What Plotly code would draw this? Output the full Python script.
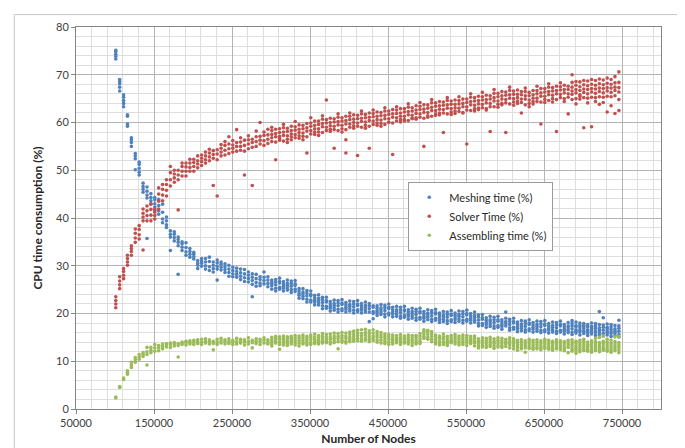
import plotly.graph_objects as go

# Cluster node counts (x positions of each group of runs)
nodes = [
    101000, 106000, 111000, 116000, 121000, 126000, 131000, 136000, 141000, 146000,
    151000, 156000, 161000, 166000, 171000, 176000, 181000, 186000, 191000, 196000,
    201000, 206000, 211000, 216000, 221000, 226000, 231000, 236000, 241000, 246000,
    251000, 256000, 261000, 266000, 271000, 276000, 281000, 286000, 291000, 296000,
    301000, 306000, 311000, 316000, 321000, 326000, 331000, 336000, 341000, 346000,
    351000, 356000, 361000, 366000, 371000, 376000, 381000, 386000, 391000, 396000,
    401000, 406000, 411000, 416000, 421000, 426000, 431000, 436000, 441000, 446000,
    451000, 456000, 461000, 466000, 471000, 476000, 481000, 486000, 491000, 496000,
    501000, 506000, 511000, 516000, 521000, 526000, 531000, 536000, 541000, 546000,
    551000, 556000, 561000, 566000, 571000, 576000, 581000, 586000, 591000, 596000,
    601000, 606000, 611000, 616000, 621000, 626000, 631000, 636000, 641000, 646000,
    651000, 656000, 661000, 666000, 671000, 676000, 681000, 686000, 691000, 696000,
    701000, 706000, 711000, 716000, 721000, 726000, 731000, 736000, 741000, 746000,
]

meshing = [
    [73.3, 73.8, 74.3, 74.8, 75.1], [66.6, 67.4, 68.1, 68.6, 69.0], [63.3, 64.0, 64.6, 65.3, 65.8],
    [59.2, 59.7, 61.3, 61.6], [55.0, 55.8, 56.4, 56.8], [50.1, 52.4, 53.0, 53.5],
    [49.0, 49.6, 50.4, 51.2, 51.7], [45.4, 46.0, 46.6, 47.3], [44.2, 44.8, 45.6, 46.5, 35.7],
    [43.0, 43.6, 44.3, 45.1],
    [41.6, 42.3, 43.0, 43.8, 44.3], [40.8, 41.5, 42.6, 43.9], [39.0, 39.8, 41.2, 42.9],
    [38.0, 38.6, 39.4, 40.2], [36.0, 36.6, 37.3, 33.2], [35.2, 35.9, 36.6, 37.1],
    [34.2, 34.9, 35.5, 36.0, 28.2], [33.2, 33.9, 34.6, 35.0], [32.2, 32.9, 33.8, 34.8],
    [31.8, 32.4, 33.0, 33.6],
    [31.4, 31.9, 32.4, 32.8], [29.4, 30.1, 30.6, 31.1], [29.9, 30.5, 31.0, 31.5],
    [29.3, 30.0, 30.8, 31.5], [29.0, 29.8, 30.9, 31.8], [28.7, 29.4, 30.1, 30.8],
    [29.3, 29.9, 30.6, 31.2, 27.0], [29.1, 29.7, 30.3, 30.8], [28.6, 29.2, 29.8, 30.4],
    [27.8, 28.6, 29.3, 30.1],
    [27.7, 28.3, 29.0, 29.7], [27.6, 28.2, 28.8, 29.5], [27.1, 27.8, 28.5, 29.3],
    [26.7, 27.5, 28.3, 29.2], [26.6, 27.3, 28.0, 28.7], [26.1, 26.9, 27.6, 28.3, 23.5],
    [25.7, 26.5, 27.3, 28.2], [25.8, 26.4, 27.1, 27.7], [26.2, 26.9, 27.6, 28.7],
    [25.6, 26.3, 27.0, 27.7],
    [25.1, 25.8, 26.3, 27.0, 26.6], [25.3, 26.0, 26.6, 27.1, 24.7], [25.1, 25.5, 26.4, 26.7, 27.4],
    [24.7, 25.7, 26.2, 26.7, 25.3], [25.4, 25.9, 26.3, 27.0, 24.9], [25.0, 25.7, 26.3, 26.8, 24.4],
    [24.6, 25.1, 25.9, 26.2, 26.9], [23.2, 24.2, 24.7, 25.2, 23.8], [23.6, 24.1, 24.5, 25.2, 23.1],
    [23.0, 23.7, 24.3, 24.8, 22.4],
    [22.4, 22.8, 23.7, 24.0, 24.7], [21.8, 22.8, 23.3, 23.8, 22.4], [22.3, 22.8, 23.2, 23.9, 21.8],
    [21.6, 22.3, 22.9, 23.4, 21.0], [21.1, 21.5, 22.4, 22.7, 23.4], [20.5, 21.5, 22.0, 22.5, 21.1],
    [21.2, 21.7, 22.1, 22.8, 20.7], [20.9, 21.6, 22.2, 22.7, 20.3], [20.6, 21.0, 21.9, 22.2, 22.9],
    [20.3, 21.3, 21.8, 22.3, 20.9],
    [21.0, 21.5, 21.9, 22.6, 20.5], [20.7, 21.4, 22.0, 22.5, 20.1], [20.4, 20.8, 21.7, 22.0, 22.7],
    [20.1, 21.1, 21.6, 22.1, 20.7], [20.8, 21.3, 21.7, 22.4, 20.3], [20.3, 21.0, 21.6, 22.1, 18.3],
    [20.0, 20.4, 21.3, 21.6, 18.9], [19.6, 20.6, 21.1, 21.6, 20.2], [20.3, 20.8, 21.2, 21.9, 19.8],
    [19.9, 20.6, 21.2, 21.7, 19.3],
    [19.7, 20.1, 21.0, 21.3, 22.0], [19.3, 20.3, 20.8, 21.3, 19.9], [19.9, 20.4, 20.8, 21.5, 19.4],
    [19.5, 20.2, 20.8, 21.3, 19.0], [19.2, 19.6, 20.5, 20.8, 21.5], [18.8, 19.8, 20.3, 20.8, 19.4],
    [19.5, 20.0, 20.4, 21.1, 19.0], [19.1, 19.8, 20.4, 20.9, 18.6], [18.8, 19.2, 20.1, 20.4, 21.1],
    [18.4, 19.4, 19.9, 20.4, 19.0],
    [19.2, 19.7, 20.1, 20.8, 18.7], [18.8, 19.5, 20.1, 20.6, 18.3], [18.6, 19.0, 19.9, 20.2, 20.9],
    [18.1, 19.1, 19.6, 20.1, 18.7], [18.8, 19.3, 19.7, 20.4, 18.3], [18.5, 19.2, 19.8, 20.3, 17.9],
    [18.3, 18.7, 19.6, 19.9, 20.6], [18.1, 19.1, 19.6, 20.1, 18.7], [18.9, 19.4, 19.8, 20.5, 18.4],
    [18.6, 19.3, 19.9, 20.4, 18.0],
    [18.4, 18.8, 19.7, 20.0, 20.7], [18.0, 19.0, 19.5, 20.0, 18.6], [18.7, 19.2, 19.6, 20.3, 18.2],
    [17.9, 18.6, 19.2, 19.7, 17.4], [17.5, 17.9, 18.8, 19.1, 19.8], [17.1, 18.1, 18.6, 19.1, 17.7],
    [17.8, 18.3, 18.7, 19.4, 17.3], [17.4, 18.1, 18.7, 19.2, 16.9], [17.1, 17.5, 18.4, 18.7, 19.4],
    [16.7, 17.7, 18.2, 18.7, 17.3],
    [17.4, 17.9, 18.3, 19.0, 20.3], [17.0, 17.7, 18.3, 18.8, 16.5], [16.7, 17.1, 18.0, 18.3, 19.0],
    [16.2, 17.2, 17.7, 18.2, 16.8], [16.9, 17.4, 17.8, 18.5, 16.4], [16.6, 17.3, 17.9, 18.4, 16.1],
    [16.4, 16.8, 17.7, 18.0, 18.7], [16.1, 17.1, 17.6, 18.1, 16.7], [16.8, 17.3, 17.7, 18.4, 16.3],
    [16.5, 17.2, 17.8, 18.3, 16.0],
    [16.2, 16.6, 17.5, 17.8, 18.5], [15.9, 16.9, 17.4, 17.9, 16.5], [16.6, 17.1, 17.5, 18.2, 16.1],
    [16.3, 17.0, 17.6, 18.1, 15.8], [16.1, 16.5, 17.4, 17.7, 18.4], [15.7, 16.7, 17.2, 17.7, 16.3],
    [16.5, 17.0, 17.4, 18.1, 16.0], [16.1, 16.8, 17.4, 17.9, 15.6, 18.5], [15.9, 16.3, 17.2, 17.5, 18.2, 16.6],
    [15.5, 16.5, 17.0, 17.5, 16.1, 18.0],
    [16.3, 16.8, 17.2, 17.9, 15.8, 17.5], [15.9, 16.6, 17.2, 17.7, 15.4, 16.3], [15.7, 16.1, 17.0, 17.3, 18.0, 16.6],
    [15.4, 16.4, 16.9, 17.4, 16.0, 17.9], [16.1, 16.6, 17.0, 17.7, 15.6, 20.4], [15.8, 16.5, 17.1, 17.6, 15.3, 19.1],
    [15.5, 15.9, 16.8, 17.1, 17.8, 16.3], [15.2, 16.2, 16.7, 17.2, 15.8, 17.7], [15.9, 16.4, 16.8, 17.5, 15.4, 16.1],
    [15.6, 16.3, 16.9, 17.4, 15.1, 18.6],
]

solver = [
    [21.2, 22.0, 22.7, 23.5], [25.2, 26.0, 26.8, 27.7], [27.3, 28.0, 28.8, 29.4],
    [30.1, 30.8, 31.5, 32.2], [32.2, 33.0, 33.6, 34.2], [34.9, 35.8, 36.8, 37.7],
    [35.6, 36.5, 37.6, 38.4], [39.4, 40.2, 41.0, 41.9, 33.3], [39.4, 40.5, 41.5, 42.5],
    [39.4, 40.6, 41.8, 42.9],
    [39.8, 40.5, 41.2, 41.9], [41.9, 43.5, 45.0, 46.3], [43.6, 44.8, 46.0, 47.0],
    [44.6, 45.8, 47.0, 48.0], [46.7, 48.0, 49.5, 50.8], [47.5, 48.4, 49.2, 50.0],
    [48.0, 49.0, 50.0, 41.7], [48.8, 49.8, 50.8, 51.5], [48.8, 49.8, 50.7, 51.5],
    [49.8, 50.6, 51.5, 52.3],
    [49.8, 50.8, 51.6, 52.3], [50.5, 51.3, 52.0, 53.0], [51.0, 51.8, 52.5, 53.2],
    [51.5, 52.2, 53.0, 53.8], [52.0, 52.8, 53.6, 54.4], [52.5, 53.3, 54.1, 46.8],
    [52.2, 53.4, 54.3, 44.6], [53.0, 53.8, 54.6, 55.4], [53.2, 54.2, 55.2, 56.0],
    [53.5, 54.5, 55.5, 57.0],
    [53.8, 54.6, 55.3, 56.2], [54.0, 55.0, 55.8, 58.5], [54.2, 55.0, 55.9, 56.8],
    [54.0, 55.2, 56.3, 49.0], [54.5, 55.5, 56.4, 57.2], [54.8, 55.8, 56.5, 46.8],
    [55.0, 56.0, 57.0, 58.2], [55.5, 56.3, 57.1, 60.0], [55.2, 56.2, 57.3, 58.0],
    [55.6, 56.5, 57.4, 58.6],
    [56.0, 56.8, 57.5, 58.3, 59.0], [55.9, 57.0, 57.7, 58.6, 52.2], [56.3, 57.1, 57.9, 58.7, 56.7],
    [56.1, 57.3, 58.0, 58.9, 59.6], [56.5, 57.2, 58.1, 58.8, 55.8], [56.4, 57.6, 58.3, 59.2, 57.0],
    [56.8, 57.5, 58.4, 59.1, 60.2], [56.7, 57.9, 58.6, 59.5, 57.2], [57.1, 57.8, 58.7, 59.4, 56.4],
    [57.0, 58.2, 58.9, 59.8, 53.6],
    [57.6, 58.3, 59.2, 59.9, 61.0], [57.5, 58.7, 59.4, 60.3, 58.0], [58.0, 58.7, 59.6, 60.3, 57.3],
    [57.9, 59.1, 59.8, 60.7, 61.4], [58.3, 59.0, 59.9, 60.6, 64.7], [58.1, 59.3, 60.0, 60.9, 58.6],
    [58.5, 59.2, 60.1, 60.8, 54.6], [58.3, 59.5, 60.2, 61.1, 61.8], [58.7, 59.4, 60.3, 61.0, 58.0],
    [58.5, 59.7, 60.4, 61.3, 56.4, 53.6],
    [59.0, 59.7, 60.6, 61.3, 62.0], [58.8, 60.0, 60.7, 61.6, 59.3], [59.2, 59.9, 60.8, 61.5, 53.1],
    [59.0, 60.2, 60.9, 61.8, 62.4], [59.4, 60.1, 61.0, 61.7, 58.8], [59.2, 60.4, 61.1, 62.0, 54.6],
    [59.6, 60.3, 61.2, 61.9, 62.6], [59.4, 60.6, 61.3, 62.2, 59.9], [59.8, 60.5, 61.4, 62.1, 59.2],
    [59.6, 60.8, 61.5, 62.4, 63.1],
    [60.1, 60.8, 61.7, 62.4, 60.0], [59.9, 61.1, 61.8, 62.7, 53.3], [60.3, 61.0, 61.9, 62.6, 63.3],
    [60.1, 61.3, 62.0, 62.9, 60.6], [60.6, 61.3, 62.2, 62.9, 60.3], [60.4, 61.6, 62.3, 63.2, 63.9],
    [60.8, 61.5, 62.4, 63.1, 60.9], [60.7, 61.9, 62.6, 63.5, 61.0], [61.1, 61.8, 62.7, 63.4, 64.2],
    [60.9, 62.1, 62.8, 63.7, 55.0],
    [61.4, 62.1, 63.0, 63.7, 61.1], [61.3, 62.5, 63.2, 64.1, 64.8], [61.8, 62.5, 63.4, 64.1, 61.5],
    [61.6, 62.8, 63.5, 64.4, 62.0], [62.0, 62.7, 63.6, 64.3, 57.9], [61.8, 63.0, 63.7, 64.6, 65.2],
    [62.2, 62.9, 63.8, 64.5, 61.7], [61.9, 63.1, 63.8, 64.7, 62.4], [62.3, 63.0, 63.9, 64.6, 65.4],
    [62.1, 63.3, 64.0, 64.9, 62.0],
    [62.6, 63.3, 64.2, 64.9, 55.5], [62.5, 63.7, 64.4, 65.3, 66.0], [62.9, 63.6, 64.5, 65.2, 62.4],
    [62.7, 63.9, 64.6, 65.5, 63.0], [63.1, 63.8, 64.7, 65.4, 66.3], [62.9, 64.1, 64.8, 65.7, 62.6],
    [63.3, 64.0, 64.9, 65.6, 58.1], [63.3, 64.5, 65.2, 66.1, 66.9], [63.8, 64.5, 65.4, 66.1, 63.2],
    [63.7, 64.9, 65.6, 66.5, 64.0],
    [64.1, 64.8, 65.7, 66.4, 57.9], [63.9, 65.1, 65.8, 66.7, 67.4], [64.3, 65.0, 65.9, 66.6, 63.6],
    [64.0, 65.2, 65.9, 66.8, 64.5], [64.2, 64.9, 65.8, 66.5, 62.0], [63.7, 64.9, 65.6, 66.5, 67.2],
    [64.0, 64.7, 65.6, 66.3, 63.3], [63.9, 65.1, 65.8, 66.7, 64.4], [64.4, 65.1, 66.0, 66.7, 67.6],
    [64.3, 65.5, 66.2, 67.1, 59.7],
    [64.8, 65.5, 66.4, 67.1, 64.2], [64.6, 65.8, 66.5, 67.4, 68.1], [65.0, 65.7, 66.6, 67.3, 64.3],
    [64.8, 66.0, 66.7, 67.6, 58.1], [65.2, 65.9, 66.8, 67.5, 68.3], [65.0, 66.2, 66.9, 67.8, 64.4],
    [65.3, 66.0, 66.9, 67.6, 61.8], [64.8, 65.9, 66.6, 67.4, 68.4, 70.0], [65.0, 66.2, 66.9, 67.8, 63.9, 68.6],
    [64.9, 65.8, 66.7, 67.5, 68.5, 65.5],
    [65.2, 66.3, 67.0, 67.9, 58.9, 68.8], [65.1, 66.0, 66.9, 67.7, 68.7, 64.1], [65.3, 66.4, 67.1, 68.0, 59.1, 69.0],
    [65.2, 66.1, 67.0, 67.8, 68.8, 64.4], [65.4, 66.5, 67.2, 68.1, 63.8, 69.1], [65.3, 66.2, 67.1, 67.9, 68.9, 64.2],
    [65.5, 66.6, 67.3, 68.2, 62.2, 69.3], [65.4, 66.3, 67.2, 68.0, 69.0, 63.5], [65.6, 66.7, 67.4, 68.3, 61.9, 69.6],
    [64.8, 66.4, 67.3, 68.4, 70.6, 62.5],
]

assembling = [
    [2.3, 2.5], [4.5, 4.7], [6.2, 6.5], [7.3, 7.7, 8.0], [8.7, 9.2, 9.8],
    [9.8, 10.3, 10.8], [10.4, 10.9, 11.4], [11.0, 11.4, 11.8], [11.4, 12.0, 12.9, 9.2], [11.8, 12.3, 12.9],
    [12.1, 12.8, 13.5], [12.2, 12.8, 13.3], [12.6, 13.1, 13.6], [13.0, 13.4, 13.7], [12.9, 13.5, 13.8],
    [13.2, 13.6, 13.9], [13.3, 13.7, 10.9], [13.5, 13.8, 14.0], [13.4, 13.9, 14.2], [13.6, 13.9, 14.3],
    [13.5, 14.0, 14.4], [13.7, 14.1, 14.5], [13.5, 14.0, 14.6], [13.8, 14.2, 14.7], [13.6, 14.1, 14.5],
    [13.7, 14.2, 12.4], [13.5, 14.0, 14.6], [13.8, 14.3, 14.8], [13.6, 14.1, 14.5], [13.7, 14.2, 14.7],
    [13.5, 14.0, 14.4], [13.6, 14.1, 14.8], [13.8, 14.3, 14.6], [13.4, 14.0, 14.5], [13.6, 14.2, 14.9],
    [12.8, 13.9, 14.4], [13.7, 14.2, 14.7], [13.5, 14.1, 14.6], [13.8, 14.4, 14.9], [13.6, 14.0, 14.5],
    [13.6, 14.1, 14.5, 15.0, 13.2], [13.8, 14.3, 14.8, 15.2, 14.0], [13.5, 14.0, 14.6, 15.1, 12.5],
    [13.9, 14.4, 14.8, 13.4, 15.3], [13.7, 14.2, 14.7, 15.1, 13.3], [13.6, 14.1, 14.5, 15.2, 14.8],
    [13.9, 14.4, 14.9, 13.4, 15.4], [13.7, 14.3, 14.8, 15.3, 13.2], [14.0, 14.5, 15.0, 13.6, 15.5],
    [13.8, 14.3, 14.7, 15.2, 13.4],
    [13.9, 14.5, 15.0, 15.5, 13.5], [14.1, 14.6, 15.1, 13.7, 15.7], [13.6, 14.4, 14.9, 15.4, 14.0],
    [14.2, 14.7, 15.2, 13.8, 15.8], [13.9, 14.5, 15.0, 15.6, 14.2], [14.0, 14.6, 15.1, 15.7, 13.6],
    [14.3, 14.8, 15.3, 13.9, 15.9], [14.1, 14.7, 15.2, 15.8, 12.6], [14.4, 14.9, 15.4, 14.0, 16.0],
    [14.2, 14.8, 15.3, 15.9, 13.8],
    [14.5, 15.0, 15.6, 16.1, 14.1], [14.6, 15.2, 15.7, 16.3, 14.2], [14.8, 15.4, 15.9, 16.5, 14.3],
    [14.7, 15.3, 15.8, 16.6, 14.2], [14.9, 15.5, 16.0, 16.7, 14.4], [14.6, 15.2, 15.8, 16.4, 14.1],
    [14.8, 15.3, 15.9, 16.6, 14.3], [14.5, 15.1, 15.6, 16.2, 14.0], [14.4, 15.0, 15.5, 16.0, 13.8],
    [14.2, 14.7, 15.2, 15.7, 13.7],
    [14.0, 14.6, 15.1, 15.6, 13.5], [14.1, 14.5, 15.0, 15.5, 13.6], [13.9, 14.4, 14.9, 15.4, 14.7],
    [14.0, 14.5, 15.0, 13.5, 15.6], [13.8, 14.3, 14.8, 15.3, 14.0], [14.1, 14.6, 15.1, 13.6, 15.5],
    [13.9, 14.4, 14.9, 15.4, 13.3], [14.0, 14.5, 15.0, 13.6, 15.4], [14.2, 14.7, 15.3, 15.8, 13.7],
    [15.2, 15.7, 16.2, 16.6, 14.8],
    [15.0, 15.6, 16.1, 16.5, 14.6], [14.6, 15.2, 15.7, 16.2, 14.1], [14.0, 14.5, 15.0, 15.5, 13.6],
    [13.8, 14.3, 14.8, 15.3, 13.4], [14.0, 14.6, 15.1, 15.7, 13.5], [13.7, 14.2, 14.7, 15.2, 13.3],
    [13.9, 14.4, 14.9, 15.4, 14.1], [14.1, 14.6, 15.1, 13.6, 15.6], [13.8, 14.3, 14.8, 15.3, 13.4],
    [14.0, 14.5, 15.0, 13.5, 15.5],
    [13.9, 14.4, 14.9, 15.4, 13.3], [13.7, 14.2, 14.7, 15.2, 14.5], [13.8, 14.3, 14.8, 13.2, 15.3],
    [13.2, 13.7, 14.2, 14.7, 12.8], [13.4, 13.9, 14.4, 14.9, 13.0], [13.3, 13.8, 14.3, 12.9, 14.8],
    [13.5, 14.0, 14.5, 15.0, 13.1], [13.2, 13.7, 14.2, 14.7, 12.7], [13.4, 13.9, 14.4, 13.0, 14.9],
    [13.3, 13.8, 14.3, 14.8, 12.9],
    [13.1, 13.6, 14.1, 14.6, 13.8], [13.4, 13.9, 14.4, 12.8, 14.9], [13.2, 13.7, 14.2, 14.7, 12.6],
    [12.9, 13.4, 13.9, 14.4, 12.3], [13.0, 13.5, 14.0, 14.5, 12.6], [12.8, 13.3, 13.8, 14.3, 11.9],
    [13.1, 13.6, 14.1, 12.7, 14.6], [12.9, 13.4, 13.9, 14.4, 12.5], [13.0, 13.5, 14.0, 12.6, 14.5],
    [12.8, 13.3, 13.8, 14.3, 12.4],
    [13.1, 13.6, 14.1, 14.6, 12.7], [12.9, 13.4, 13.9, 12.5, 14.4], [12.7, 13.2, 13.7, 14.2, 12.3],
    [13.0, 13.5, 14.0, 14.5, 12.6], [12.8, 13.3, 13.8, 12.4, 14.3], [12.6, 13.1, 13.6, 14.1, 12.2],
    [12.9, 13.4, 13.9, 14.4, 11.8], [12.5, 13.0, 13.5, 14.0, 12.1, 14.5], [12.7, 13.2, 13.7, 12.3, 14.2, 11.7],
    [12.4, 12.9, 13.4, 13.9, 14.4, 12.0],
    [12.6, 13.1, 13.6, 14.1, 12.2, 14.6], [12.5, 13.0, 13.5, 12.1, 14.0, 13.2], [12.3, 12.8, 13.3, 13.8, 14.3, 11.9],
    [12.6, 13.1, 13.6, 14.1, 12.2, 14.8], [12.4, 12.9, 13.4, 13.9, 12.0, 15.0], [12.7, 13.2, 13.7, 12.3, 14.2, 15.3],
    [12.5, 13.0, 13.5, 14.0, 12.1, 14.6], [12.3, 12.8, 13.3, 13.8, 11.9, 14.4], [12.6, 13.1, 13.6, 12.2, 14.1, 15.1],
    [12.4, 12.9, 13.4, 13.9, 11.8, 15.2],
]

series_names = ["Meshing time (%)", "Solver Time (%)", "Assembling time (%)"]
series_colors = ["#4F81BD", "#C0504D", "#9BBB59"]

x_ticks = [50000, 150000, 250000, 350000, 450000, 550000, 650000, 750000]
y_ticks = [0, 10, 20, 30, 40, 50, 60, 70, 80]


def expand(groups):
    xs, ys = [], []
    for n, g in zip(nodes, groups):
        for v in g:
            xs.append(n)
            ys.append(v)
    return xs, ys


FONT = "Lato, 'Open Sans', sans-serif"
fig = go.Figure()
for name, color, groups in zip(series_names, series_colors, [meshing, solver, assembling]):
    xs, ys = expand(groups)
    fig.add_trace(go.Scatter(
        x=xs, y=ys, mode="markers", name=name,
        marker=dict(color=color, size=3.6, line=dict(width=0)),
    ))

axis_common = dict(
    showline=True, mirror=True, linecolor="#868686", linewidth=1,
    showgrid=True, gridcolor="#b4b4b4", gridwidth=1,
    ticks="outside", ticklen=4, tickcolor="#868686",
    tickfont=dict(family=FONT, size=11, color="#404040"),
    zeroline=False,
)

fig.update_layout(
    width=685, height=448,
    margin=dict(l=68, r=32, t=19, b=44),
    paper_bgcolor="white", plot_bgcolor="white",
    font=dict(family=FONT, size=11, color="#404040"),
    showlegend=True,
    legend=dict(
        x=0.568, y=0.595, xanchor="left", yanchor="top",
        bgcolor="white", bordercolor="#9a9a9a", borderwidth=1,
        font=dict(family=FONT, size=11, color="#262626"),
        itemsizing="trace", tracegroupgap=2,
    ),
    xaxis=dict(
        **axis_common,
        range=[50000, 800000], tickmode="array", tickvals=x_ticks,
        ticktext=[str(v) for v in x_ticks],
        minor=dict(dtick=20000, tick0=50000, showgrid=True, gridcolor="#dedede", ticks=""),
        title=dict(text="<b>Number of Nodes</b>", font=dict(family=FONT, size=12, color="#262626"), standoff=6),
    ),
    yaxis=dict(
        **axis_common,
        range=[0, 80], tickmode="array", tickvals=y_ticks,
        minor=dict(dtick=2, tick0=0, showgrid=True, gridcolor="#dedede", ticks=""),
        title=dict(text="<b>CPU time consumption (%)</b>", font=dict(family=FONT, size=12, color="#262626"), standoff=10),
    ),
)

# outer chart border (left and top edges visible in the picture)
fig.add_shape(type="line", xref="paper", yref="paper", x0=-0.1055, x1=1.1, y0=1.0325, y1=1.0325,
              line=dict(color="#c8c8c8", width=1))
fig.add_shape(type="line", xref="paper", yref="paper", x0=-0.1055, x1=-0.1055, y0=-0.2, y1=1.0325,
              line=dict(color="#c8c8c8", width=1))

fig.write_html("out.html")
